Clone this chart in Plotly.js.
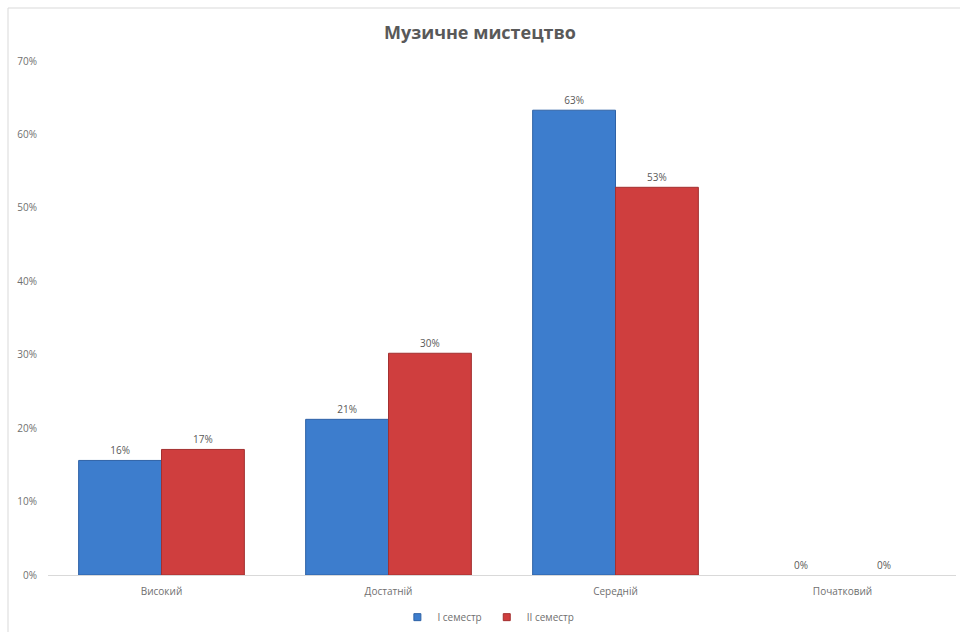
<!DOCTYPE html>
<html>
<head>
<meta charset="utf-8">
<script src="https://cdn.plot.ly/plotly-3.0.1.min.js"></script>
<style>html,body{margin:0;padding:0;background:#fff;}#chart{width:960px;height:632px;}</style>
</head>
<body>
<div id="chart"></div>
<script>
const categories = ["Високий", "Достатній", "Середній", "Початковий"];
const seriesNames = ["I семестр", "II семестр"];
const sem1 = [0.156, 0.212, 0.633, 0];
const sem2 = [0.171, 0.302, 0.528, 0];
const yTicks = [0, 0.1, 0.2, 0.3, 0.4, 0.5, 0.6, 0.7];

const labelFont = {family: "Open Sans, sans-serif", size: 10, color: "#595959"};
const tickFont = {family: "Open Sans, sans-serif", size: 10, color: "#6f6f6f"};
const colors = ["#3d7dcd", "#cf3e3e"];
const edge = ["#2f62a6", "#a33030"];
const lineW = v => v.map(d => d > 0 ? 1 : 0);

const traces = [
  {type: "bar", name: seriesNames[0], x: categories, y: sem1, showlegend: false,
   marker: {color: colors[0], line: {color: edge[0], width: lineW(sem1)}},
   texttemplate: "%{y:.0%}", textposition: "outside", textfont: labelFont, cliponaxis: false},
  {type: "bar", name: seriesNames[1], x: categories, y: sem2, showlegend: false,
   marker: {color: colors[1], line: {color: edge[1], width: lineW(sem2)}},
   texttemplate: "%{y:.0%}", textposition: "outside", textfont: labelFont, cliponaxis: false},
  {type: "scatter", mode: "markers", name: seriesNames[0], x: [null], y: [null],
   marker: {symbol: "square", size: 7, color: colors[0], line: {color: edge[0], width: 1}}},
  {type: "scatter", mode: "markers", name: seriesNames[1], x: [null], y: [null],
   marker: {symbol: "square", size: 7, color: colors[1], line: {color: edge[1], width: 1}}}
];

const layout = {
  width: 960, height: 632,
  margin: {l: 48, r: 4, t: 61, b: 57, autoexpand: false},
  paper_bgcolor: "#ffffff", plot_bgcolor: "#ffffff",
  title: {text: "<b>Музичне мистецтво</b>", x: 0.5, xanchor: "center", y: 0.948, yanchor: "middle",
          font: {family: "Open Sans, sans-serif", size: 18, color: "#595959"}},
  barmode: "group", bargap: 0.27, bargroupgap: 0,
  xaxis: {showline: true, linecolor: "#d9d9d9", linewidth: 1, ticks: "", showgrid: false,
          tickfont: tickFont, ticklabelstandoff: 7, fixedrange: true, automargin: false},
  yaxis: {range: [0, 0.7], tickvals: yTicks, tickformat: ".0%", showgrid: false, zeroline: false,
          showline: false, ticks: "", tickfont: tickFont, ticklabelstandoff: 10, fixedrange: true, automargin: false},
  legend: {orientation: "h", x: 0.485, xanchor: "center", y: -0.082, yanchor: "middle",
           font: tickFont, itemwidth: 30, traceorder: "normal", tracegroupgap: 0},
  shapes: [{type: "rect", xref: "paper", yref: "paper",
            x0: (8 - 48) / 908, x1: (975 - 48) / 908, y0: (575 - 645) / 514, y1: (575 - 8) / 514,
            line: {color: "#d9d9d9", width: 1}, fillcolor: "rgba(0,0,0,0)", layer: "below"}],
  showlegend: true
};

Plotly.newPlot("chart", traces, layout, {displayModeBar: false, staticPlot: true});
</script>
</body>
</html>
